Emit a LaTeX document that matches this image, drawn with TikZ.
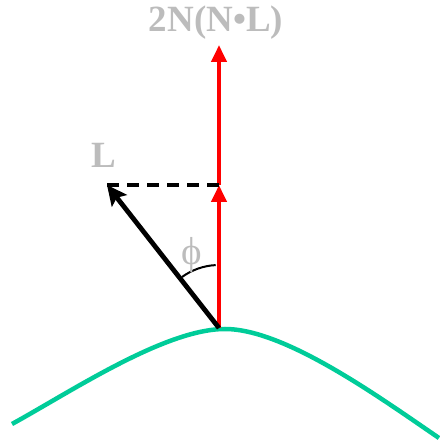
\documentclass[tikz,border=0pt]{standalone}
\usepackage{fontspec}
\setmainfont{Liberation Serif}
\usetikzlibrary{arrows.meta}
\definecolor{labelgray}{RGB}{188,188,188}
\definecolor{surfgreen}{RGB}{0,204,153}
\definecolor{rayred}{RGB}{255,0,0}

\begin{document}
\begin{tikzpicture}[
    x=1pt, y=1pt,
    vlabel/.style={text=labelgray, font=\bfseries\fontsize{37}{37}\selectfont, inner sep=0pt},
    redray/.style={draw=rayred, line width=4pt, -{Triangle[length=17pt,width=15pt]}},
    lightray/.style={draw=black, line width=4.8pt, -{Stealth[length=20pt,width=19pt,inset=4pt]}},
    >=Stealth
]
\useasboundingbox (0,0) rectangle (439,444);
% surface
\draw[surfgreen, line width=4.5pt] (12,20) .. controls (72,53) and (165,115) .. (225,115)
    .. controls (285,115) and (379,47) .. (439,6);
% points
\coordinate (P) at (219,116);
\coordinate (half) at (219,259);
\coordinate (top) at (219,399);
\coordinate (Ltip) at (107,259);
% vectors
\draw[redray] (P) -- (half);
\draw[redray] (half) -- (top);
\draw[lightray] (P) -- (Ltip);
\draw[black, line width=3.2pt, dash pattern=on 12pt off 8pt] (Ltip) -- (half);
% angle
\draw[black, line width=2pt] ([shift={(126:63)}]P) arc[start angle=126, end angle=93, radius=63];
% labels
\node[vlabel] (nl) at (216,421) {2N(N•L)};
\node[vlabel] (lvec) at (104,289) {L};
\node[text=labelgray, font=\fontsize{39}{39}\selectfont, inner sep=0pt] (phi) at (192,189) {ϕ};
\end{tikzpicture}
\end{document}
